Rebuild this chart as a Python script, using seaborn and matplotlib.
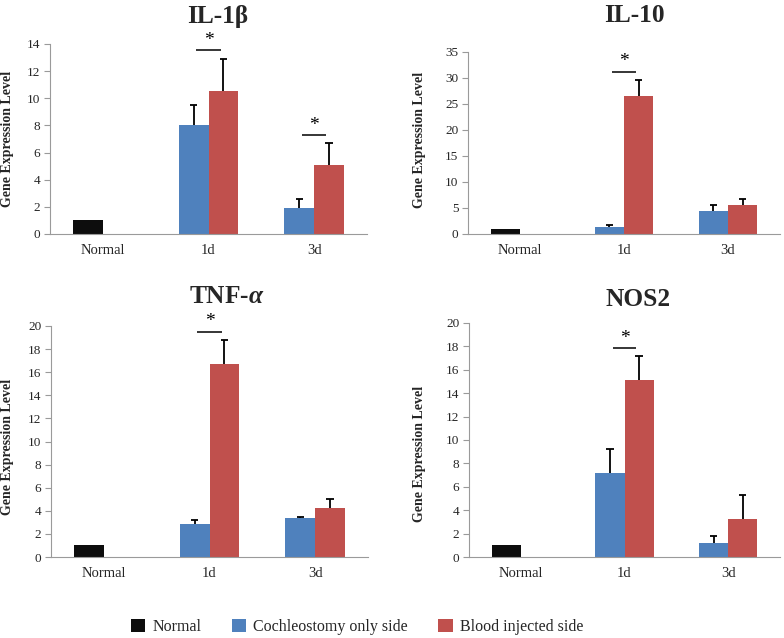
import numpy as np
import pandas as pd
import matplotlib
matplotlib.use("Agg")
import matplotlib.pyplot as plt
from matplotlib.patches import Patch
import seaborn as sns

# ---------------- data ----------------
categories = ["Normal", "1d", "3d"]
sides = ["Cochleostomy only side", "Blood injected side"]

il1b_cochleo = [1.0, 8.0, 1.93]
il1b_cochleo_err = [0.0, 1.54, 0.66]
il1b_blood = [None, 10.57, 5.09]
il1b_blood_err = [None, 2.30, 1.59]
il1b_sig = [(1, 13.56), (2, 7.29)]

il10_cochleo = [1.0, 1.41, 4.42]
il10_cochleo_err = [0.0, 0.32, 1.08]
il10_blood = [None, 26.5, 5.58]
il10_blood_err = [None, 3.1, 1.15]
il10_sig = [(1, 31.2)]

tnf_cochleo = [1.0, 2.86, 3.41]
tnf_cochleo_err = [0.0, 0.37, 0.08]
tnf_blood = [None, 16.71, 4.27]
tnf_blood_err = [None, 2.11, 0.75]
tnf_sig = [(1, 19.5)]

nos2_cochleo = [1.0, 7.16, 1.19]
nos2_cochleo_err = [0.0, 2.04, 0.57]
nos2_blood = [None, 15.17, 3.27]
nos2_blood_err = [None, 1.99, 2.01]
nos2_sig = [(1, 17.84)]

titles = ["IL-1β", "IL-10", r"TNF-$\alpha$", "NOS2"]
ymaxes = [14, 35, 20, 20]
ysteps = [2, 5, 2, 2]

# ---------------- style ----------------
sns.set_style("white")
plt.rcParams["font.family"] = ["Liberation Serif", "DejaVu Serif"]
plt.rcParams["mathtext.fontset"] = "custom"
plt.rcParams["mathtext.rm"] = "Liberation Serif:bold"
plt.rcParams["mathtext.it"] = "Liberation Serif:italic:bold"
plt.rcParams["mathtext.bf"] = "Liberation Serif:bold"

BLUE = "#4F81BD"
RED = "#C0504D"
BLACK = "#0d0d0d"
AXCOL = "#9a9a9a"

fig = plt.figure(figsize=(7.84, 6.38), dpi=100)
W, H = 784, 638


def px_axes(left, top, right, bottom):
    return fig.add_axes([left / W, 1 - bottom / H, (right - left) / W, (bottom - top) / H])


panels = [
    dict(box=(50, 44, 367, 234), c=il1b_cochleo, ce=il1b_cochleo_err, b=il1b_blood, be=il1b_blood_err,
         sig=il1b_sig, title_xy=(218, 16), ylab_xy=(8, 139)),
    dict(box=(468, 52, 780, 234), c=il10_cochleo, ce=il10_cochleo_err, b=il10_blood, be=il10_blood_err,
         sig=il10_sig, title_xy=(634, 15), ylab_xy=(420, 140)),
    dict(box=(51, 326, 368, 557), c=tnf_cochleo, ce=tnf_cochleo_err, b=tnf_blood, be=tnf_blood_err,
         sig=tnf_sig, title_xy=(227, 297), ylab_xy=(8, 447)),
    dict(box=(469, 323, 780, 557), c=nos2_cochleo, ce=nos2_cochleo_err, b=nos2_blood, be=nos2_blood_err,
         sig=nos2_sig, title_xy=(638, 300), ylab_xy=(420, 454)),
]

for p, title, ymax, ystep in zip(panels, titles, ymaxes, ysteps):
    ax = px_axes(*p["box"])
    rows = []
    for i, cat in enumerate(categories):
        rows.append((cat, sides[0], p["c"][i], p["ce"][i]))
        if p["b"][i] is not None:
            rows.append((cat, sides[1], p["b"][i], p["be"][i]))
    df = pd.DataFrame(rows, columns=["Time", "Side", "Value", "Err"])
    sns.barplot(data=df, x="Time", y="Value", hue="Side", order=categories, hue_order=sides,
                palette=[BLUE, RED], width=0.564, gap=0, saturation=1, errorbar=None,
                legend=False, ax=ax, linewidth=0)

    # recolor Normal bar, add one-sided error bars
    for si, cont in enumerate(ax.containers):
        for bar in cont:
            xc = bar.get_x() + bar.get_width() / 2
            ci = int(round(xc))
            h = bar.get_height()
            sub = df[(df.Time == categories[ci]) & (df.Side == sides[si])]
            err = float(sub.Err.iloc[0]) if len(sub) else 0.0
            if ci == 0:
                bar.set_facecolor(BLACK)
            if err > 0:
                ax.vlines(xc, h, h + err, color="black", lw=1.3, zorder=3)
                ax.hlines(h + err, xc - 0.035, xc + 0.035, color="black", lw=1.3, zorder=3)

    # significance marks
    for ci, yv in p["sig"]:
        ax.hlines(yv, ci - 0.115, ci + 0.115, color="black", lw=1.1)
        ax.annotate("*", (ci, yv), xytext=(0, 1), textcoords="offset points",
                    ha="center", va="bottom", fontsize=14, color="black")

    ax.set_xlim(-0.5, 2.5)
    ax.set_ylim(0, ymax)
    ax.set_yticks(np.arange(0, ymax + 0.1, ystep))
    ax.set_xlabel("")
    ax.set_ylabel("")
    ax.set_xticks(range(3))
    ax.set_xticklabels(categories, fontsize=10.5)
    ax.set_xticks([-0.5, 0.5, 1.5, 2.5], minor=True)
    ax.tick_params(axis="x", which="major", length=0, pad=7)
    ax.tick_params(axis="x", which="minor", length=4, direction="out", color=AXCOL, width=0.8)
    ax.tick_params(axis="y", length=4, direction="out", color=AXCOL, width=0.8, labelsize=9.5, pad=3)
    ax.tick_params(axis="both", left=True, bottom=True)
    for s in ["top", "right"]:
        ax.spines[s].set_visible(False)
    for s in ["left", "bottom"]:
        ax.spines[s].set_color(AXCOL)
        ax.spines[s].set_linewidth(0.8)

    fig.text(p["title_xy"][0] / W, 1 - p["title_xy"][1] / H, title, ha="center", va="center",
             fontsize=18.3, fontweight="bold")
    fig.text(p["ylab_xy"][0] / W, 1 - p["ylab_xy"][1] / H, "Gene Expression Level", ha="center",
             va="center", rotation=90, fontsize=10, fontweight="bold")

handles = [Patch(facecolor=BLACK, edgecolor="none"),
           Patch(facecolor=BLUE, edgecolor="none"),
           Patch(facecolor=RED, edgecolor="none")]
labels = ["Normal", "Cochleostomy only side", "Blood injected side"]
fig.legend(handles, labels, loc="center", bbox_to_anchor=(357 / W, 1 - 627 / H), ncol=3,
           frameon=False, fontsize=11.5, handlelength=0.9, handleheight=0.9, handletextpad=0.45,
           columnspacing=1.9)

fig.savefig("out.png", dpi=100, facecolor="white")
